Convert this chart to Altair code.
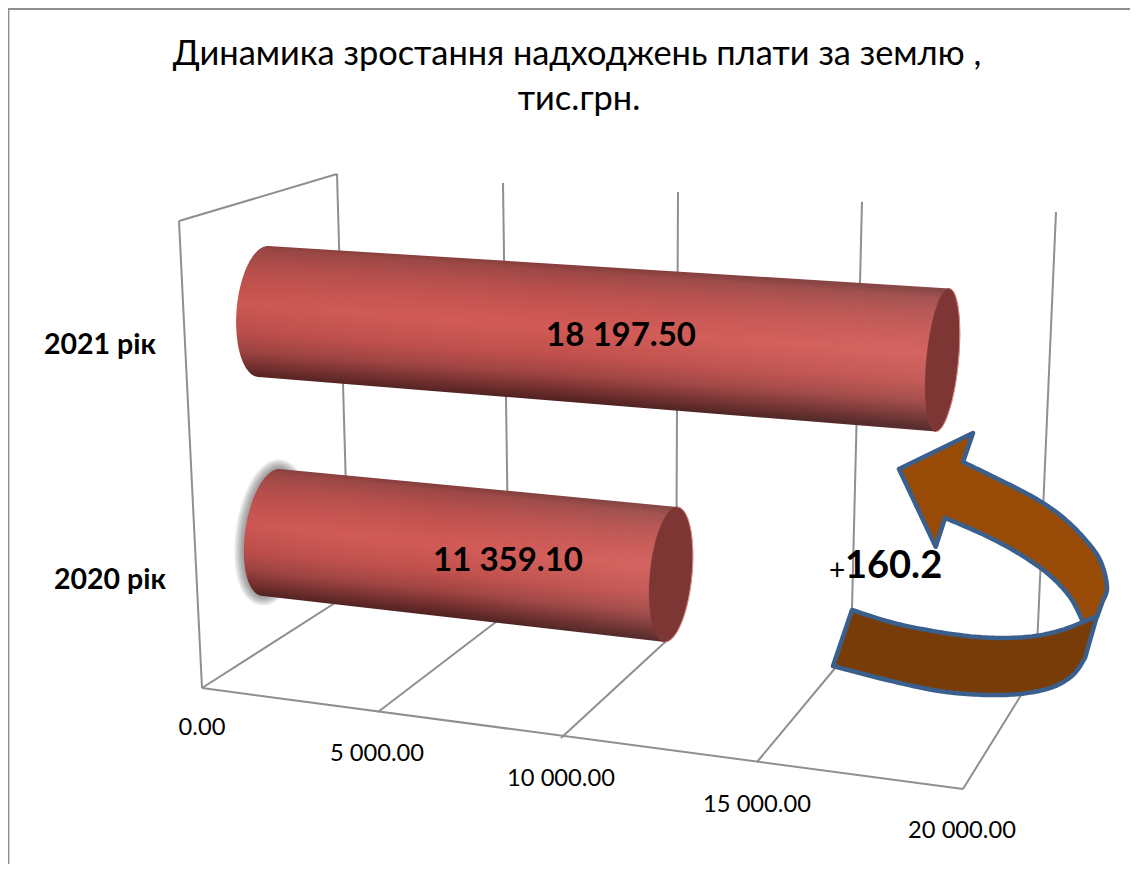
import numpy as np
import pandas as pd
import altair as alt

# ---- data
categories = ["2021 рік", "2020 рік"]
values = [18197.5, 11359.1]
ticks = [0, 5000, 10000, 15000, 20000]
tick_labels = ["0.00", "5 000.00", "10 000.00", "15 000.00", "20 000.00"]
title_lines = ["Динамика зростання надходжень плати за землю ,", "тис.грн."]
note_plus, note_value = "+", "160.2"

# ---- perspective layout (page pixels)
W, H = 1122, 856
OFF = 8
front_x = [202, 378, 561, 757, 963]
front_y = [688, 712, 738, 762, 789]
back_x = [349, 509, 676, 851, 1036]
back_y = [594, 612, 632, 649, 671]
top_x = [337, 503, 678, 862, 1056]
top_y = [174, 183, 192, 202, 212]
corner = (179, 221)
GRID = "#8f8f8f"
FONT = "Lato"
frac = [(x - front_x[0]) / (front_x[-1] - front_x[0]) for x in front_x]


def along(v):
    return float(np.interp(v, ticks, frac))


# bar geometry: centre and half-axis of each end, measured at value 0 and at the bar's end
bars_geo = [
    dict(c0=(263.5, 311.5), M0=(4.5, -65.5), m0=27, c1=(942.5, 360), M1=(6.5, -71.5), m1=16, u=along(18197.5)),
    dict(c0=(271, 532.5), M0=(8, -63.5), m0=26, c1=(671, 574.5), M1=(6, -67.5), m1=21, u=along(11359.1)),
]
shade_pos = [0, .05, .18, .32, .46, .66, .80, .92, 1]
shade_col = ["#803c3a", "#9c4745", "#b64f4c", "#c85450", "#d25a56", "#c0504c", "#a04442", "#702e2d", "#4e2020"]


def ellipse(c, M, m, n=72, a0=0.0, a1=2 * np.pi):
    pts = []
    for a in np.linspace(a0, a1, n):
        pts.append((c[0] + np.sin(a) * M[0] + np.cos(a) * m,
                    c[1] + np.sin(a) * M[1]))
    return pts


def smooth(pts, n=10):
    """Catmull-Rom through the outline points of the hand drawn arrow."""
    p = [pts[0]] + list(pts) + [pts[-1]]
    out = []
    for i in range(1, len(p) - 2):
        p0, p1, p2, p3 = map(np.array, (p[i - 1], p[i], p[i + 1], p[i + 2]))
        for t in np.linspace(0, 1, n, endpoint=False):
            out.append(tuple(0.5 * (2 * p1 + (p2 - p0) * t + (2 * p0 - 5 * p1 + 4 * p2 - p3) * t ** 2
                                    + (3 * p1 - p0 - 3 * p2 + p3) * t ** 3)))
    out.append(tuple(pts[-1]))
    return out


def path(pts, close=True):
    s = "M" + " L".join("%.1f %.1f" % (x - OFF, y - OFF) for x, y in pts)
    return s + (" Z" if close else "")


# ---- frame, walls and floor
rules = [
    dict(x=8.4, y=8, x2=8.4, y2=OFF + H, w=2.0),
    dict(x=8, y=9, x2=OFF + W, y2=9, w=2.0),
    dict(x=corner[0], y=corner[1], x2=front_x[0], y2=front_y[0], w=2),
    dict(x=corner[0], y=corner[1], x2=top_x[0], y2=top_y[0], w=2),
    dict(x=front_x[0], y=front_y[0], x2=front_x[-1], y2=front_y[-1], w=2),
]
for i in range(len(ticks)):
    rules.append(dict(x=top_x[i], y=top_y[i], x2=back_x[i], y2=back_y[i], w=2))
    rules.append(dict(x=back_x[i], y=back_y[i], x2=front_x[i], y2=front_y[i], w=2))

x_s = alt.X("x:Q", scale=alt.Scale(domain=[OFF, OFF + W], range=[0, W]), axis=None)
y_s = alt.Y("y:Q", scale=alt.Scale(domain=[OFF, OFF + H], range=[0, H]), axis=None)
x2_s, y2_s = alt.X2("x2:Q"), alt.Y2("y2:Q")

grid = alt.Chart(pd.DataFrame(rules)).mark_rule(color=GRID).encode(
    x=x_s, y=y_s, x2=x2_s, y2=y2_s,
    strokeWidth=alt.StrokeWidth("w:Q", scale=None))


def shape_layer(p, **kw):
    return alt.Chart(pd.DataFrame({"a": [0]})).mark_point(shape=p, size=4, opacity=1, **kw).encode(
        x=alt.value(0), y=alt.value(0))


# ---- soft shadow at the start of the 2020 bar
g = bars_geo[1]
glow = [shape_layer(path(ellipse(g["c0"], g["M0"], g["m0"])), filled=False, stroke="#444444",
                    strokeOpacity=0.10, strokeWidth=w) for w in (19, 16, 13, 10, 7, 4)]

# ---- cylinders: one outline each, shaded across the cylinder's axis
bodies = []
caps = []
for val, g in zip(values, bars_geo):
    c0, c1, M0, M1 = map(np.array, (g["c0"], g["c1"], g["M0"], g["M1"]))
    # c1 was measured at the bar's own end: the end follows the value on the axis
    c_end = c0 + (c1 - c0) * along(val) / g["u"]
    left = ellipse(tuple(c0), tuple(M0), -g["m0"], 60, np.pi / 2, -np.pi / 2)
    body = left + [tuple(c_end - M1), tuple(c_end + M1)]
    xs, ys = [p[0] for p in body], [p[1] for p in body]
    bx, by = min(xs), min(ys)
    bw, bh = max(xs) - bx, max(ys) - by
    unit = lambda p: np.array([(p[0] - bx) / bw, (p[1] - by) / bh])
    d = c_end - c0
    du = np.array([d[0] / bw, d[1] / bh])
    n = np.array([-du[1], du[0]]) / np.hypot(*du)
    mid, Mm = (c0 + c_end) / 2, (M0 + M1) / 2
    p1, p2 = unit(mid + Mm), unit(mid - Mm)
    q2 = p1 + n * np.dot(p2 - p1, n)
    grad = alt.Gradient(gradient="linear", x1=float(p1[0]), y1=float(p1[1]), x2=float(q2[0]), y2=float(q2[1]),
                        stops=[alt.GradientStop(color=c, offset=o) for o, c in zip(shade_pos, shade_col)])
    bodies.append(shape_layer(path(body), filled=True, fill=grad, strokeWidth=0))
    bodies.append(shape_layer(path(body), filled=True, strokeWidth=0, fill=alt.Gradient(
        gradient="linear", x1=0, y1=0, x2=1, y2=0,
        stops=[alt.GradientStop(color="rgba(0,0,0,0.03)", offset=0),
               alt.GradientStop(color="rgba(255,255,255,0)", offset=0.45),
               alt.GradientStop(color="rgba(255,255,255,0.07)", offset=1)])))
    caps.append(shape_layer(path(ellipse(tuple(c_end), tuple(M1), g["m1"])), filled=True, fill="#7e3635", stroke="#7e3635", strokeWidth=0.5))
    caps.append(shape_layer(path(ellipse(tuple(c_end), tuple(M1), g["m1"], 40, -np.pi / 2, np.pi / 2), close=False),
                            filled=False, stroke="#d98f8b", strokeWidth=1))

# ---- the hand drawn arrow
front_band = (smooth([(852, 610), (890, 622), (927, 630), (967, 636), (1003, 638), (1035, 636), (1062, 630), (1083, 622), (1097, 616)])
              + smooth([(1085, 658), (1073, 675), (1053, 687), (1027, 693), (1000, 695), (967, 694), (933, 690), (883, 679), (833, 666)]))
back_band = (smooth([(1083, 622), (1070, 597), (1047, 573), (1013, 550), (980, 533), (945, 518)])
             + [(935.7, 546.7), (899, 469), (973, 433)]
             + smooth([(963, 462), (1000, 480), (1033, 497), (1060, 515), (1083, 537), (1100, 560), (1107, 587), (1102, 603), (1097, 617)]))
ARROW_LINE = "#3a5f8d"
arrow = [
    shape_layer(path(back_band), filled=True, fill="#974b07", stroke=ARROW_LINE, strokeWidth=4.5, strokeJoin="round"),
    shape_layer(path(front_band), filled=True, fill="#783c08", stroke=ARROW_LINE, strokeWidth=4.5, strokeJoin="round"),
]


# ---- text
def text_layer(rows, size, weight="normal", align="center"):
    return alt.Chart(pd.DataFrame(rows)).mark_text(
        font=FONT, fontSize=size, fontWeight=weight, align=align, baseline="alphabetic", color="#000000"
    ).encode(x=x_s, y=y_s, text="t:N")


def money(v):
    return f"{v:,.2f}".replace(",", " ")


texts = [
    text_layer([dict(x=577, y=65, t=title_lines[0]), dict(x=579, y=110, t=title_lines[1])], 34.4),
    text_layer([dict(x=100, y=354, t=categories[0]), dict(x=110, y=589, t=categories[1])], 28.5, "bold"),
    text_layer([dict(x=621, y=346, t=money(values[0])), dict(x=508, y=571, t=money(values[1]))], 33, "bold"),
    text_layer([dict(x=845, y=578, t=note_value)], 38, "bold", "left"),
    text_layer([dict(x=829, y=580, t=note_plus)], 28, "normal", "left"),
    text_layer([dict(x=x, y=y, t=t) for x, y, t in zip([202, 377, 561, 757, 962],
                                                      [735, 761, 786, 812, 838], tick_labels)], 23.7),
]

chart = alt.layer(grid, *glow, *bodies, *caps, *arrow, *texts).properties(
    width=W, height=H, padding=0, autosize="none"
).configure_view(stroke=None)

chart.save("out.html", embed_options={"renderer": "svg", "actions": False})
